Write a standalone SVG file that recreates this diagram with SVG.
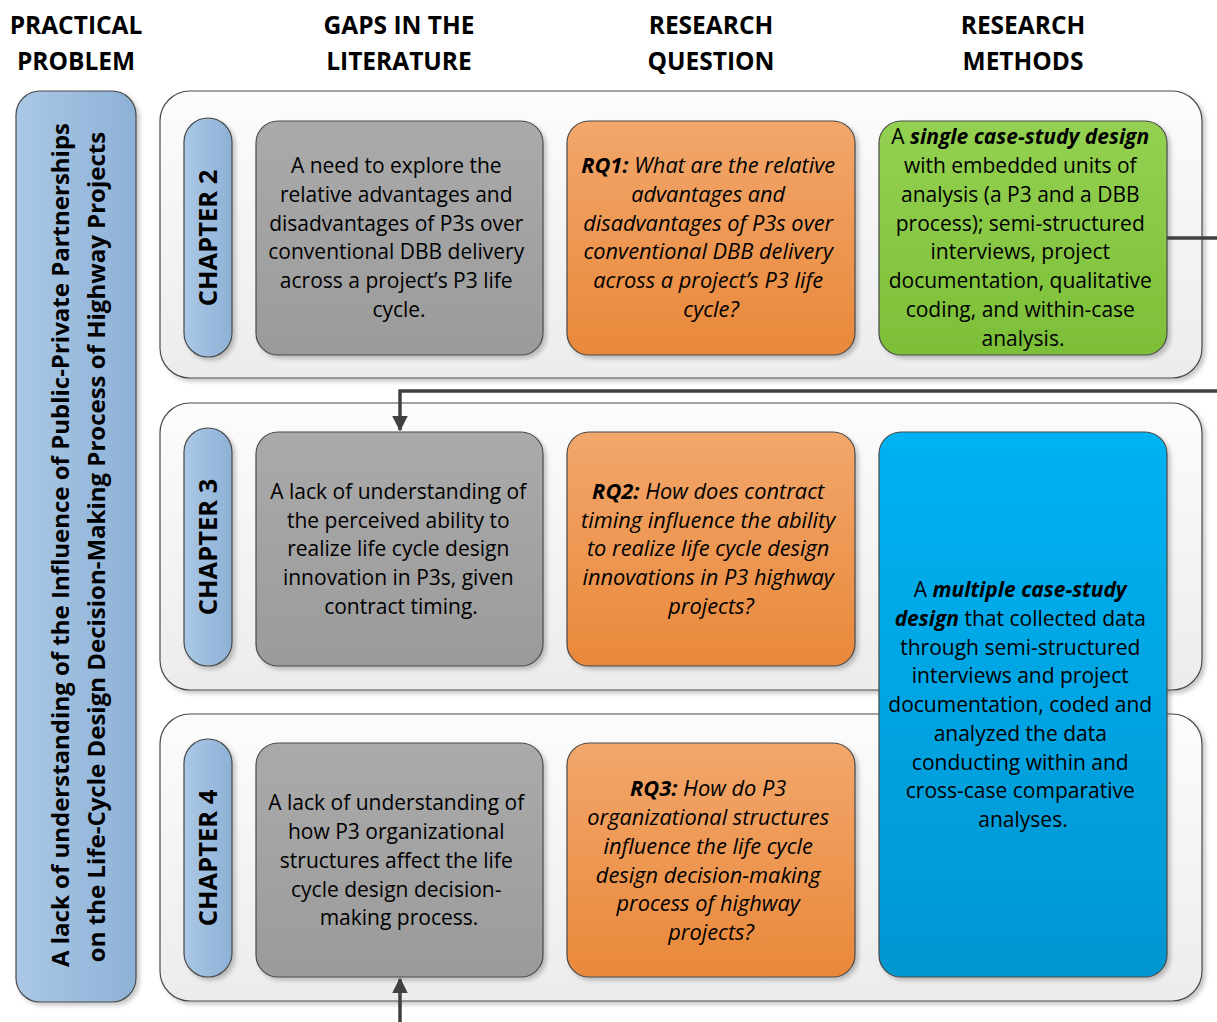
<svg xmlns="http://www.w3.org/2000/svg" width="1217" height="1022" viewBox="0 0 1217 1022">
  <defs>
    <linearGradient id="gPanel" x1="0" y1="0" x2="0" y2="1">
      <stop offset="0" stop-color="#fcfcfc"/>
      <stop offset="1" stop-color="#ececec"/>
    </linearGradient>
    <linearGradient id="gBlueSoft" x1="0" y1="0" x2="1" y2="0">
      <stop offset="0" stop-color="#abc8e6"/>
      <stop offset="1" stop-color="#8db1d6"/>
    </linearGradient>
    <linearGradient id="gGray" x1="0" y1="0" x2="0" y2="1">
      <stop offset="0" stop-color="#aaaaaa"/>
      <stop offset="1" stop-color="#9b9b9b"/>
    </linearGradient>
    <linearGradient id="gOrange" x1="0" y1="0" x2="0" y2="1">
      <stop offset="0" stop-color="#f2a76c"/>
      <stop offset="1" stop-color="#e9883a"/>
    </linearGradient>
    <linearGradient id="gGreen" x1="0" y1="0" x2="0" y2="1">
      <stop offset="0" stop-color="#94d152"/>
      <stop offset="1" stop-color="#7cbf38"/>
    </linearGradient>
    <linearGradient id="gCyan" x1="0" y1="0" x2="0" y2="1">
      <stop offset="0" stop-color="#00b2f2"/>
      <stop offset="1" stop-color="#0096d2"/>
    </linearGradient>
    <filter id="shadow" x="-10%" y="-10%" width="125%" height="125%">
      <feDropShadow dx="3" dy="3" stdDeviation="2" flood-color="#000" flood-opacity="0.22"/>
    </filter>
    <marker id="arrow" viewBox="0 0 10 10" refX="9" refY="5" markerWidth="4.5" markerHeight="4.5" markerUnits="strokeWidth" orient="auto">
      <path d="M0,0 L10,5 L0,10 z" fill="#404040"/>
    </marker>
  </defs>
  <style>
    text { font-family: "Open Sans", "DejaVu Sans", sans-serif; fill: #000; }
    .hdr { font-size: 24.5px; font-weight: bold; text-anchor: middle; }
    .body { font-size: 21px; text-anchor: middle; }
    .rq { font-size: 21.8px; text-anchor: middle; font-style: italic; }
    .bi { font-weight: bold; font-style: italic; }
    .chap { font-size: 25.5px; font-weight: bold; text-anchor: middle; }
    .main { font-size: 24px; font-weight: bold; text-anchor: middle; }
    .panel { fill: url(#gPanel); stroke: #4a4a4a; stroke-width: 1.2; filter: url(#shadow); }
    .pill { fill: url(#gBlueSoft); stroke: #4a4a4a; stroke-width: 1.2; filter: url(#shadow); }
    .gap { fill: url(#gGray); stroke: #4a4a4a; stroke-width: 1.2; filter: url(#shadow); }
    .rqbox { fill: url(#gOrange); stroke: #4a4a4a; stroke-width: 1.2; filter: url(#shadow); }
    .green { fill: url(#gGreen); stroke: #4a4a4a; stroke-width: 1.2; filter: url(#shadow); }
    .cyan { fill: url(#gCyan); stroke: #4a4a4a; stroke-width: 1.2; filter: url(#shadow); }
    .conn { fill: none; stroke: #404040; stroke-width: 3.5; }
  </style>

  <!-- column headings -->
  <g id="headers">
    <text class="hdr" x="76" y="34">PRACTICAL</text>
    <text class="hdr" x="76" y="70">PROBLEM</text>
    <text class="hdr" x="399" y="34">GAPS IN THE</text>
    <text class="hdr" x="399" y="70">LITERATURE</text>
    <text class="hdr" x="711" y="34">RESEARCH</text>
    <text class="hdr" x="711" y="70">QUESTION</text>
    <text class="hdr" x="1023" y="34">RESEARCH</text>
    <text class="hdr" x="1023" y="70">METHODS</text>
  </g>

  <!-- practical problem -->
  <g id="problem">
    <rect class="pill" x="16" y="91" width="120" height="911" rx="24"/>
    <text class="main" transform="translate(68.5,545) rotate(-90)">A lack of understanding of the Influence of Public-Private Partnerships</text>
    <text class="main" transform="translate(104.5,547) rotate(-90)">on the Life-Cycle Design Decision-Making Process of Highway Projects</text>
  </g>

  <!-- chapter panels -->
  <g id="panel-ch2"><rect class="panel" x="160" y="91" width="1042" height="287" rx="30"/></g>
  <g id="panel-ch3"><rect class="panel" x="160" y="403" width="1042" height="287" rx="30"/></g>
  <g id="panel-ch4"><rect class="panel" x="160" y="714" width="1042" height="287" rx="30"/></g>

  <!-- chapter labels -->
  <g id="chapter-2">
    <rect class="pill" x="184" y="118" width="48" height="239" rx="24"/>
    <text class="chap" transform="translate(217,238) rotate(-90)">CHAPTER 2</text>
  </g>
  <g id="chapter-3">
    <rect class="pill" x="184" y="428" width="48" height="238" rx="24"/>
    <text class="chap" transform="translate(217,547) rotate(-90)">CHAPTER 3</text>
  </g>
  <g id="chapter-4">
    <rect class="pill" x="184" y="739" width="48" height="238" rx="24"/>
    <text class="chap" transform="translate(217,858) rotate(-90)">CHAPTER 4</text>
  </g>

  <!-- gaps in the literature -->
  <g id="gap-1">
    <rect class="gap" x="256" y="121" width="287" height="234" rx="22"/>
    <text class="body">
      <tspan x="399" y="173">A need to explore the</tspan>
      <tspan x="399" y="202">relative advantages and</tspan>
      <tspan x="399" y="231">disadvantages of P3s over</tspan>
      <tspan x="399" y="259">conventional DBB delivery</tspan>
      <tspan x="399" y="288">across a project’s P3 life</tspan>
      <tspan x="399" y="317">cycle.</tspan>
    </text>
  </g>
  <g id="gap-2">
    <rect class="gap" x="256" y="432" width="287" height="234" rx="22"/>
    <text class="body">
      <tspan x="401" y="499">A lack of understanding of</tspan>
      <tspan x="401" y="528">the perceived ability to</tspan>
      <tspan x="401" y="556">realize life cycle design</tspan>
      <tspan x="401" y="585">innovation in P3s, given</tspan>
      <tspan x="401" y="614">contract timing.</tspan>
    </text>
  </g>
  <g id="gap-3">
    <rect class="gap" x="256" y="743" width="287" height="234" rx="22"/>
    <text class="body">
      <tspan x="399" y="810">A lack of understanding of</tspan>
      <tspan x="399" y="839">how P3 organizational</tspan>
      <tspan x="399" y="868">structures affect the life</tspan>
      <tspan x="399" y="897">cycle design decision-</tspan>
      <tspan x="399" y="925">making process.</tspan>
    </text>
  </g>

  <!-- research questions -->
  <g id="rq-1">
    <rect class="rqbox" x="567" y="121" width="288" height="234" rx="22"/>
    <text class="rq">
      <tspan x="711" y="173"><tspan class="bi">RQ1:</tspan> What are the relative</tspan>
      <tspan x="711" y="202">advantages and</tspan>
      <tspan x="711" y="231">disadvantages of P3s over</tspan>
      <tspan x="711" y="259">conventional DBB delivery</tspan>
      <tspan x="711" y="288">across a project’s P3 life</tspan>
      <tspan x="711" y="317">cycle?</tspan>
    </text>
  </g>
  <g id="rq-2">
    <rect class="rqbox" x="567" y="432" width="288" height="234" rx="22"/>
    <text class="rq">
      <tspan x="711" y="499"><tspan class="bi">RQ2:</tspan> How does contract</tspan>
      <tspan x="711" y="528">timing influence the ability</tspan>
      <tspan x="711" y="556">to realize life cycle design</tspan>
      <tspan x="711" y="585">innovations in P3 highway</tspan>
      <tspan x="711" y="614">projects?</tspan>
    </text>
  </g>
  <g id="rq-3">
    <rect class="rqbox" x="567" y="743" width="288" height="234" rx="22"/>
    <text class="rq">
      <tspan x="711" y="796"><tspan class="bi">RQ3:</tspan> How do P3</tspan>
      <tspan x="711" y="825">organizational structures</tspan>
      <tspan x="711" y="854">influence the life cycle</tspan>
      <tspan x="711" y="883">design decision-making</tspan>
      <tspan x="711" y="911">process of highway</tspan>
      <tspan x="711" y="940">projects?</tspan>
    </text>
  </g>

  <!-- research methods -->
  <g id="method-1">
    <rect class="green" x="879" y="121" width="288" height="234" rx="22"/>
    <text class="body">
      <tspan x="1023" y="144">A <tspan class="bi">single case-study design</tspan></tspan>
      <tspan x="1023" y="173">with embedded units of</tspan>
      <tspan x="1023" y="202">analysis (a P3 and a DBB</tspan>
      <tspan x="1023" y="231">process); semi-structured</tspan>
      <tspan x="1023" y="259">interviews, project</tspan>
      <tspan x="1023" y="288">documentation, qualitative</tspan>
      <tspan x="1023" y="317">coding, and within-case</tspan>
      <tspan x="1023" y="346">analysis.</tspan>
    </text>
  </g>
  <g id="method-2">
    <rect class="cyan" x="879" y="432" width="288" height="545" rx="22"/>
    <text class="body">
      <tspan x="1023" y="597">A <tspan class="bi">multiple case-study</tspan></tspan>
      <tspan x="1023" y="626"><tspan class="bi">design</tspan> that collected data</tspan>
      <tspan x="1023" y="655">through semi-structured</tspan>
      <tspan x="1023" y="683">interviews and project</tspan>
      <tspan x="1023" y="712">documentation, coded and</tspan>
      <tspan x="1023" y="741">analyzed the data</tspan>
      <tspan x="1023" y="770">conducting within and</tspan>
      <tspan x="1023" y="798">cross-case comparative</tspan>
      <tspan x="1023" y="827">analyses.</tspan>
    </text>
  </g>

  <!-- connectors -->
  <g id="connectors">
    <path class="conn" d="M1167,238 H1230 V391 H400 V430" marker-end="url(#arrow)"/>
    <path class="conn" d="M400,1030 V979" marker-end="url(#arrow)"/>
  </g>
</svg>
